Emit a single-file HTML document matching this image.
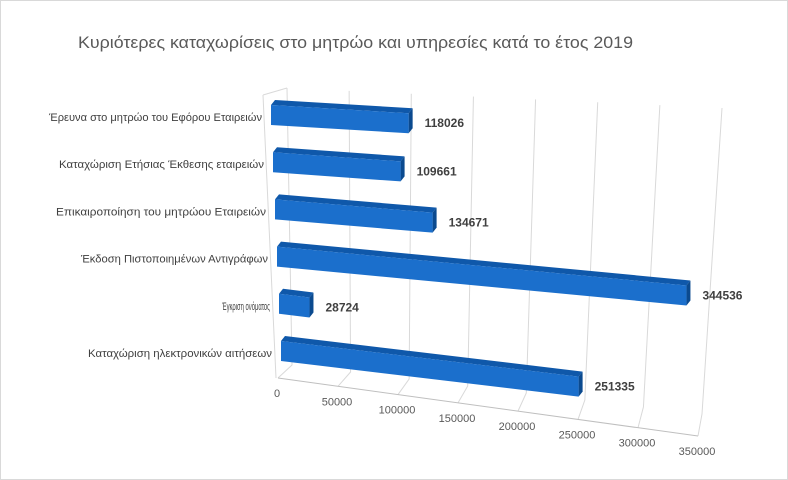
<!DOCTYPE html>
<html><head><meta charset="utf-8"><style>
html,body{margin:0;padding:0;background:#fff}
svg{display:block;font-family:"Liberation Sans",sans-serif}
</style></head><body>
<svg id="chart" width="788" height="480" viewBox="0 0 788 480" xmlns="http://www.w3.org/2000/svg">
<rect x="0.5" y="0.5" width="787" height="479" fill="#fff" stroke="#d9d9d9"/>
<text x="78" y="48" font-size="17" fill="#595959" textLength="555" lengthAdjust="spacingAndGlyphs">Κυριότερες καταχωρίσεις στο μητρώο και υπηρεσίες κατά το έτος 2019</text>
<g id="grid"></g><g id="axis"></g><g id="bars"></g><g id="labels"></g>
</svg>
<script>
const categories = ["Έρευνα στο μητρώο του Εφόρου Εταιρειών","Καταχώριση Ετήσιας Έκθεσης εταιρειών","Επικαιροποίηση του μητρώου Εταιρειών","Έκδοση Πιστοποιημένων Αντιγράφων","Έγκριση ονόματος","Καταχώριση ηλεκτρονικών αιτήσεων"];
const values = [118026,109661,134671,344536,28724,251335];
const tickValues = [0,50000,100000,150000,200000,250000,300000,350000];
const tickLabels = ["0","50000","100000","150000","200000","250000","300000","350000"];
const catLabelWidths = [213,205,210,187,48,184];

const NS="http://www.w3.org/2000/svg";
const vMax=350000;
function mk(tag,attrs,parent){const e=document.createElementNS(NS,tag);for(const k in attrs)e.setAttribute(k,attrs[k]);parent.appendChild(e);return e;}
function lerp(a,b,t){return a+(b-a)*t;}
// wall/floor axis functions
function backTop(v){const t=v/vMax;return [lerp(287,722,t)+6*t*(t-1)*-1*0, lerp(88,108,t)];}
function backBottom(v){const t=v/vMax;return [lerp(292,702,t), lerp(365,414,t)];}
function front(v){const t=v/vMax;return [lerp(278,698,t), lerp(378,436,t)];}
// bar axis functions per row
function rowLeft(i){return 271+2*i;}
function rowTop(i){return 105+47.2*i;}
function rowSlope(i){return 0.058+0.012*i;}
const scale=1.2e-3;
function barX(i,v){return rowLeft(i)+v*scale;}
function barY(i,v){return rowTop(i)+v*scale*rowSlope(i);}

const grid=document.getElementById('grid');
const gc="#d9d9d9";
// left wall
let el=mk('path',{d:"M263,95 L287,88 M263,95 L276,378",stroke:gc,fill:"none"},grid);


tickValues.forEach((v,k)=>{
  const a=backTop(v),b=backBottom(v),c=front(v);
  const g=mk('path',{d:`M${a[0]},${a[1]} L${b[0]},${b[1]} L${c[0]},${c[1]}`,stroke:gc,fill:"none"},grid);
  
  
});
const f0=front(0),f1=front(vMax);
el=mk('line',{x1:f0[0],y1:f0[1],x2:f1[0],y2:f1[1],stroke:"#bfbfbf"},grid);


const axis=document.getElementById('axis');
tickValues.forEach((v,k)=>{
  const p=front(v);
  const t=mk('text',{x:p[0]-1,y:p[1]+19,'font-size':11,fill:"#595959",'text-anchor':"middle"},axis);
  t.textContent=tickLabels[k];
  
  
});
const bars=document.getElementById('bars'),labels=document.getElementById('labels');
const h=20,dx=4,dy=-5;
values.forEach((v,i)=>{
  const xL=barX(i,0),yL=barY(i,0),xR=barX(i,v)-dx,yR=barY(i,v);
  const g=mk('g',{},bars);
  
  
  mk('polygon',{points:`${xL},${yL} ${xL+dx},${yL+dy} ${xR+dx},${yR+dy} ${xR},${yR}`,fill:"#0f58aa"},g);
  mk('polygon',{points:`${xR},${yR} ${xR+dx},${yR+dy} ${xR+dx},${yR+dy+h} ${xR},${yR+h}`,fill:"#0b4a8f"},g);
  mk('polygon',{points:`${xL},${yL} ${xR},${yR} ${xR},${yR+h} ${xL},${yL+h}`,fill:"#1b6fcc"},g);
  const vl=mk('text',{x:xR+dx+12,y:yR+h/2+4,'font-size':12,'font-weight':'bold',fill:"#404040"},labels);
  vl.textContent=String(v);
  
  
  const cl=mk('text',{x:rowLeft(i)-9,y:rowTop(i)+h/2+6,'font-size':11,fill:"#404040",'text-anchor':"end",textLength:catLabelWidths[i],lengthAdjust:"spacingAndGlyphs"},labels);
  cl.textContent=categories[i];
  
  
});
</script>
</body></html>
